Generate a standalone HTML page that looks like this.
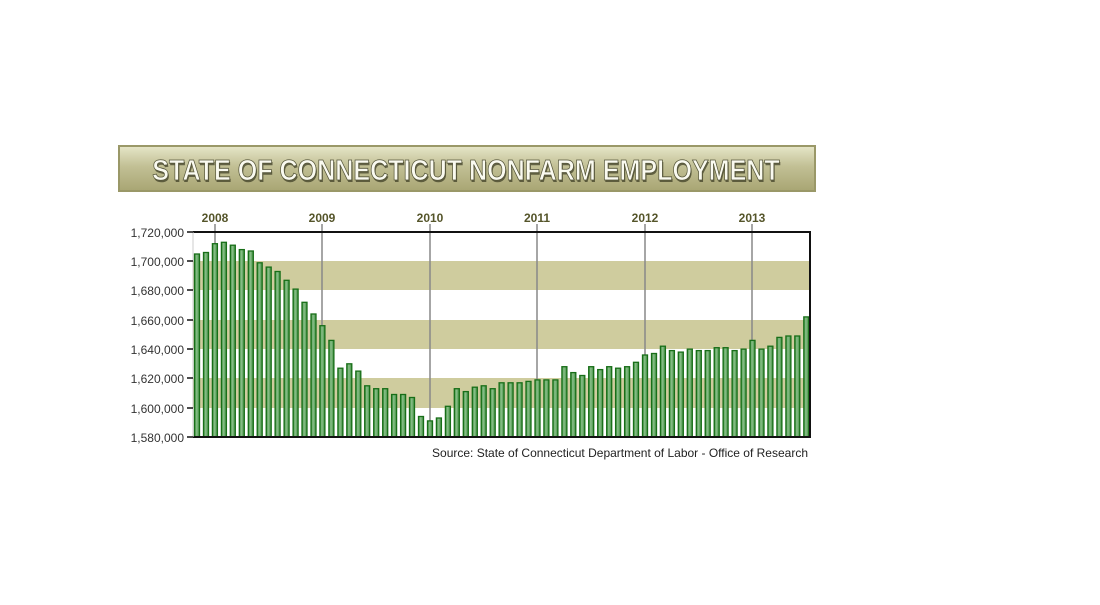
<!DOCTYPE html>
<html><head><style>
body{margin:0;background:#fff;width:1100px;height:600px;overflow:hidden;font-family:"Liberation Sans",sans-serif}
</style></head><body>
<svg width="1100" height="600" xmlns="http://www.w3.org/2000/svg">
<defs>
<linearGradient id="ban" x1="0" y1="0" x2="0" y2="1">
<stop offset="0" stop-color="#e6e6c8"/><stop offset="0.45" stop-color="#c2c095"/><stop offset="1" stop-color="#a8a573"/>
</linearGradient>
<linearGradient id="bar" x1="0" y1="0" x2="1" y2="0">
<stop offset="0" stop-color="#2f8a2f"/><stop offset="0.4" stop-color="#8cc08c"/><stop offset="1" stop-color="#3f8f3f"/>
</linearGradient>
</defs>
<rect x="119" y="146" width="696" height="45" fill="url(#ban)" stroke="#9a9868" stroke-width="2"/>
<g transform="translate(466,180) scale(0.865,1)">
<text x="1" y="2" text-anchor="middle" font-size="29" font-weight="bold" fill="#3a3a22" opacity="0.7">STATE OF CONNECTICUT NONFARM EMPLOYMENT</text>
<text x="0" y="0" text-anchor="middle" font-size="29" font-weight="bold" fill="#fafaf0" stroke="#55553a" stroke-width="0.8">STATE OF CONNECTICUT NONFARM EMPLOYMENT</text>
</g>
<g fill="#cfcc9e">
<rect x="193" y="261" width="617" height="29"/>
<rect x="193" y="320" width="617" height="29"/>
<rect x="193" y="378" width="617" height="30"/>
</g>
<g stroke="#888" stroke-width="1.5">
<line x1="215" y1="224" x2="215" y2="437"/><line x1="322" y1="224" x2="322" y2="437"/>
<line x1="430" y1="224" x2="430" y2="437"/><line x1="537" y1="224" x2="537" y2="437"/>
<line x1="645" y1="224" x2="645" y2="437"/><line x1="752" y1="224" x2="752" y2="437"/>
</g>
<g font-size="12" font-weight="bold" fill="#55552a" text-anchor="middle">
<text x="215" y="222">2008</text><text x="322" y="222">2009</text><text x="430" y="222">2010</text>
<text x="537" y="222">2011</text><text x="645" y="222">2012</text><text x="752" y="222">2013</text>
</g>
<g id="bars"></g>
<line x1="193" y1="232" x2="811" y2="232" stroke="#111" stroke-width="2"/>
<line x1="810" y1="232" x2="810" y2="438" stroke="#111" stroke-width="2"/>
<line x1="193" y1="437" x2="811" y2="437" stroke="#111" stroke-width="2"/>
<line x1="193" y1="232" x2="193" y2="437" stroke="#ccc" stroke-width="1"/>
<g stroke="#111" stroke-width="1.5">
<line x1="187" y1="232" x2="193" y2="232"/><line x1="187" y1="261" x2="193" y2="261"/>
<line x1="187" y1="290" x2="193" y2="290"/><line x1="187" y1="320" x2="193" y2="320"/>
<line x1="187" y1="349" x2="193" y2="349"/><line x1="187" y1="378" x2="193" y2="378"/>
<line x1="187" y1="408" x2="193" y2="408"/><line x1="187" y1="437" x2="193" y2="437"/>
</g>
<g font-size="12" fill="#333" text-anchor="end">
<text x="184" y="237">1,720,000</text><text x="184" y="266">1,700,000</text>
<text x="184" y="295">1,680,000</text><text x="184" y="325">1,660,000</text>
<text x="184" y="354">1,640,000</text><text x="184" y="383">1,620,000</text>
<text x="184" y="413">1,600,000</text><text x="184" y="442">1,580,000</text>
</g>
<text x="808" y="457" font-size="12" fill="#222" text-anchor="end">Source: State of Connecticut Department of Labor - Office of Research</text>
</svg>
<script>
var v=[1705,1706,1712,1713,1711,1708,1707,1699,1696,1693,1687,1681,1672,1664,1656,1646,1627,1630,1625,1615,1613,1613,1609,1609,1607,1594,1591,1593,1601,1613,1611,1614,1615,1613,1617,1617,1617,1618,1619,1619,1619,1628,1624,1622,1628,1626,1628,1627,1628,1631,1636,1637,1642,1639,1638,1640,1639,1639,1641,1641,1639,1640,1646,1640,1642,1648,1649,1649,1662];
var g=document.getElementById('bars'),s='';
for(var i=0;i<v.length;i++){var x=197+i*8.96,y=437-(v[i]-1580)*205/140;
s+='<rect x="'+(x-2.5).toFixed(1)+'" y="'+y.toFixed(1)+'" width="5" height="'+(437-y).toFixed(1)+'" fill="url(#bar)" stroke="#186e18" stroke-width="1.3"/>';}
g.innerHTML=s;
</script>
</body></html>
